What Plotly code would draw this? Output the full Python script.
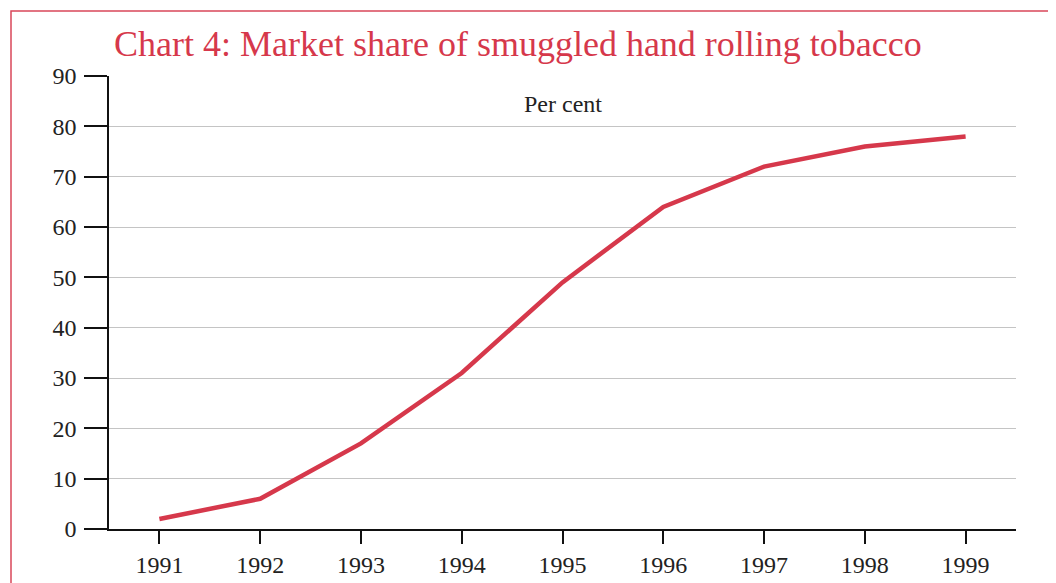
import plotly.graph_objects as go

years = [1991, 1992, 1993, 1994, 1995, 1996, 1997, 1998, 1999]
share = [2, 6, 17, 31, 49, 64, 72, 76, 78]
y_ticks = [0, 10, 20, 30, 40, 50, 60, 70, 80, 90]
title_text = "Chart 4: Market share of smuggled hand rolling tobacco"
unit_text = "Per cent"

RED = "#d6384b"
FONT = "Liberation Serif"

# page body adds an 8px offset; positions below are in figure coordinates
OFF = 8
W, H = 1056, 583
L, T = 109 - OFF, 76 - OFF
R = W - (1016 - OFF)
B = H - (529 - OFF)
pw, ph = W - L - R, H - T - B

def px_x(x):  # screen x -> paper
    return (x - OFF - L) / pw

def px_y(y):  # screen y -> paper
    return (H - B - (y - OFF)) / ph

fig = go.Figure()
fig.add_trace(go.Scatter(x=years, y=share, mode="lines",
                         line=dict(color=RED, width=4.5), showlegend=False))

fig.update_layout(
    width=W, height=H,
    margin=dict(l=L, r=R, t=T, b=B, pad=0),
    paper_bgcolor="white", plot_bgcolor="white",
    font=dict(family=FONT, color="#222222", size=24),
    xaxis=dict(range=[1990.5, 1999.5], tickvals=years, ticktext=[str(y) for y in years],
               showgrid=False, zeroline=False, showline=True, linecolor="#111111", linewidth=2,
               ticks="outside", ticklen=13, tickwidth=2, tickcolor="#111111",
               tickfont=dict(family=FONT, size=24, color="#222222"), ticklabelstandoff=0),
    yaxis=dict(range=[0, 90], tickvals=y_ticks, showgrid=True, gridcolor="#c4c4c4", gridwidth=1,
               zeroline=False, showline=True, linecolor="#111111", linewidth=1.5,
               ticks="outside", ticklen=23, tickwidth=2, tickcolor="#111111",
               tickfont=dict(family=FONT, size=24, color="#222222"), ticklabelstandoff=3),
)

fig.add_annotation(text=title_text, xref="paper", yref="paper",
                   x=px_x(112), y=px_y(44), xanchor="left", yanchor="middle",
                   showarrow=False, font=dict(family=FONT, size=36, color=RED))
fig.add_annotation(text=unit_text, xref="paper", yref="paper",
                   x=px_x(563), y=px_y(104), xanchor="center", yanchor="middle",
                   showarrow=False, font=dict(family=FONT, size=24, color="#222222"))

fig.add_shape(type="rect", xref="paper", yref="paper",
              x0=px_x(11), x1=px_x(W + 40),
              y0=px_y(H + 40), y1=px_y(11),
              line=dict(color="#d9475a", width=1.5), fillcolor="rgba(0,0,0,0)", layer="below")

fig.write_html("out.html")
